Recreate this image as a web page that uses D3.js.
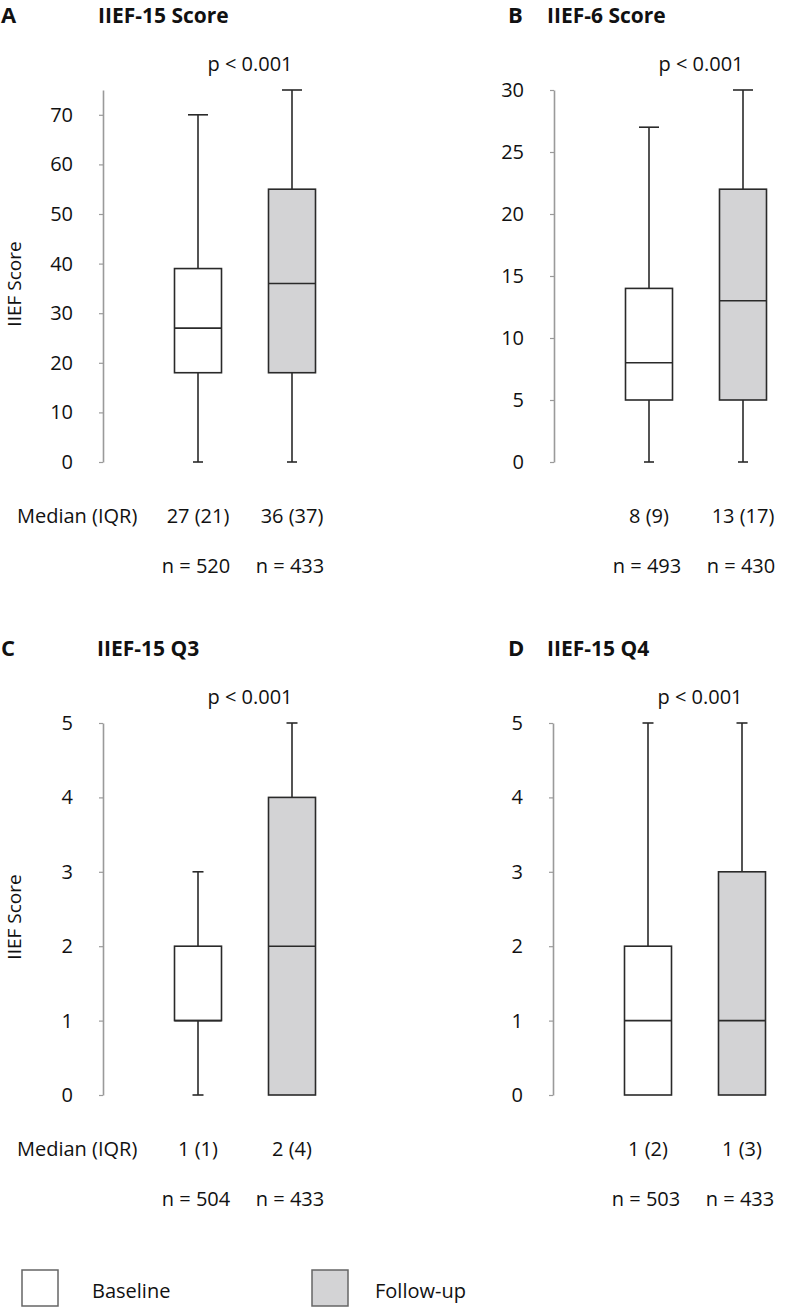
<!DOCTYPE html>
<html><head><meta charset="utf-8">
<script src="https://cdn.jsdelivr.net/npm/d3@7"></script>
<style>
body{margin:0;background:#fff;}
text{font-family:"Open Sans","Noto Sans",sans-serif;fill:#111;}
</style></head>
<body>
<svg id="chart" width="786" height="1308"></svg>
<script>
// ---- data ----
const panelLetters = ["A","B","C","D"];
const panelTitles = ["IIEF-15 Score","IIEF-6 Score","IIEF-15 Q3","IIEF-15 Q4"];
const groups = ["Baseline","Follow-up"];
const yMax = [75, 30, 5, 5];
const yTicks = [[0,10,20,30,40,50,60,70],[0,5,10,15,20,25,30],[0,1,2,3,4,5],[0,1,2,3,4,5]];
// [min, q1, median, q3, max] per group
const statsA = [[0,18,27,39,70],[0,18,36,55,75]];
const statsB = [[0,5,8,14,27],[0,5,13,22,30]];
const statsC = [[0,1,1,2,3],[0,0,2,4,5]];
const statsD = [[0,0,1,2,5],[0,0,1,3,5]];
const medianIQR = [["27 (21)","36 (37)"],["8 (9)","13 (17)"],["1 (1)","2 (4)"],["1 (2)","1 (3)"]];
const nLabels = [["n = 520","n = 433"],["n = 493","n = 430"],["n = 504","n = 433"],["n = 503","n = 433"]];
const pLabels = ["p < 0.001","p < 0.001","p < 0.001","p < 0.001"];
const showMedianLabel = [true,false,true,false];
const showYLabel = [true,false,true,false];
const allStats = [statsA, statsB, statsC, statsD];

// ---- layout ----
const origins = [[103,90],[554,90],[103,723],[553,723]];
const letterX = [1,508,1,508];
const titleX = [98,547,97,547];
const capTop = [20,20,11,11];
const capBottom = [10,10,11,11];
const axisH = 372, boxW = 47;
const fills = ["#ffffff","#d3d3d5"];

const svg = d3.select("#chart");

allStats.forEach((stats, i) => {
  const [ox, oy] = origins[i];
  const g = svg.append("g");
  const y = d3.scaleLinear().domain([0, yMax[i]]).range([oy+axisH, oy]);
  const x = d3.scalePoint().domain(groups).range([ox+95, ox+189]);

  // axis
  const ax = g.append("g").attr("transform",`translate(${ox},0)`)
    .call(d3.axisLeft(y).tickValues(yTicks[i]).tickFormat(d3.format("d"))
      .tickSize(4).tickSizeOuter(0).tickPadding(26));
  ax.select(".domain").attr("stroke","#9a9a9a").attr("stroke-width",1.6);
  ax.selectAll(".tick line").attr("stroke","#9a9a9a").attr("stroke-width",1.2);
  ax.selectAll(".tick text").attr("font-size",20).attr("fill","#111")
    .attr("font-family","'Open Sans','Noto Sans',sans-serif");

  // titles
  g.append("text").attr("x",letterX[i]).attr("y",oy-67).attr("font-size",22).attr("font-weight",700).text(panelLetters[i]);
  g.append("text").attr("x",titleX[i]).attr("y",oy-67).attr("font-size",21).attr("font-weight",700).text(panelTitles[i]);
  g.append("text").attr("x",ox+147).attr("y",oy-19).attr("text-anchor","middle").attr("font-size",20).text(pLabels[i]);

  if (showYLabel[i]) {
    g.append("text").attr("transform",`translate(21,${oy+axisH/2+8}) rotate(-90)`)
      .attr("text-anchor","middle").attr("font-size",19).text("IIEF Score");
  }

  // boxes
  groups.forEach((grp, j) => {
    const s = stats[j];
    const cx = x(grp);
    const bg = g.append("g").attr("stroke","#2a2a2a").attr("stroke-width",1.6);
    if (s[4] > s[3]) {
      bg.append("line").attr("x1",cx).attr("x2",cx).attr("y1",y(s[3])).attr("y2",y(s[4]));
      bg.append("line").attr("x1",cx-capTop[i]/2).attr("x2",cx+capTop[i]/2).attr("y1",y(s[4])).attr("y2",y(s[4]));
    }
    if (s[1] > s[0]) {
      bg.append("line").attr("x1",cx).attr("x2",cx).attr("y1",y(s[1])).attr("y2",y(s[0]));
      bg.append("line").attr("x1",cx-capBottom[i]/2).attr("x2",cx+capBottom[i]/2).attr("y1",y(s[0])).attr("y2",y(s[0]));
    }
    bg.append("rect").attr("x",cx-boxW/2).attr("width",boxW)
      .attr("y",y(s[3])).attr("height",y(s[1])-y(s[3])).attr("fill",fills[j]);
    bg.append("line").attr("x1",cx-boxW/2).attr("x2",cx+boxW/2).attr("y1",y(s[2])).attr("y2",y(s[2]));

    g.append("text").attr("x",cx).attr("y",oy+433).attr("text-anchor","middle").attr("font-size",20).text(medianIQR[i][j]);
    g.append("text").attr("x",cx-2).attr("y",oy+483).attr("text-anchor","middle").attr("font-size",20).text(nLabels[i][j]);
  });

  if (showMedianLabel[i]) {
    g.append("text").attr("x",17).attr("y",oy+433).attr("font-size",20).text("Median (IQR)");
  }
});

// legend
const legX = [22, 312];
const legTextX = [92, 375];
groups.forEach((grp, j) => {
  svg.append("rect").attr("x",legX[j]).attr("y",1270).attr("width",36).attr("height",36)
    .attr("fill",fills[j]).attr("stroke","#666").attr("stroke-width",1.5);
  svg.append("text").attr("x",legTextX[j]).attr("y",1298).attr("font-size",20).text(grp);
});
</script>
</body></html>
